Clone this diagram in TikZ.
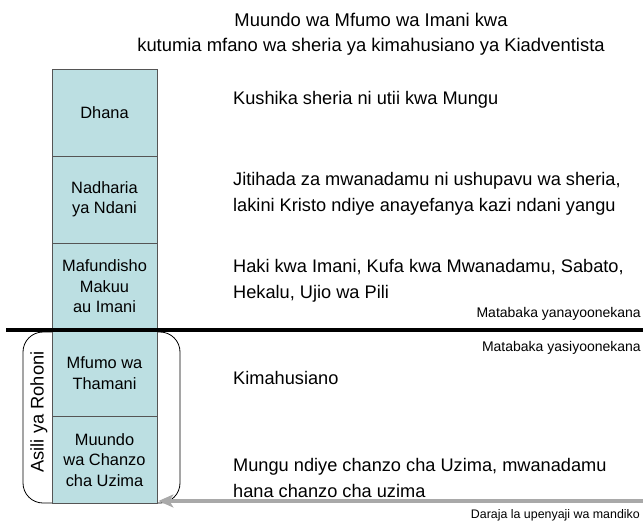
\documentclass[tikz,border=0pt]{standalone}
\usepackage{fontspec}
\setmainfont{Liberation Sans}
\usetikzlibrary{arrows.meta}

\definecolor{cellfill}{HTML}{BCDFE2}
\definecolor{celledge}{HTML}{555555}
\definecolor{bridgegray}{HTML}{A9A9A9}

\tikzset{
  cell/.style={draw=celledge, fill=cellfill, line width=0.8pt, minimum width=105pt,
    minimum height=87pt, align=center, inner sep=0pt, font=\fontsize{16.4}{20.5}\selectfont},
  note/.style={anchor=west, align=left, inner sep=0pt, font=\fontsize{18.2}{26}\selectfont},
  small/.style={anchor=east, inner sep=0pt, font=\fontsize{14}{16}\selectfont},
  title/.style={inner sep=0pt, font=\fontsize{18.4}{22}\selectfont}
}

\begin{document}
\begin{tikzpicture}[x=1pt, y=-1pt]
        \useasboundingbox (0,0) rectangle (643,522);

        % title
        \node[title] (t1) at (371, 20) {Muundo wa Mfumo wa Imani kwa};
        \node[title] (t2) at (371, 47) {kutumia mfano wa sheria ya kimahusiano ya Kiadventista};

        % bracket behind the hidden layers
        \draw[line width=0.8pt, rounded corners=20pt] (23,332) rectangle (180,503);
        \node[rotate=90, inner sep=0pt, font=\fontsize{18.3}{22}\selectfont] (asili) at (39, 412) {Asili ya Rohoni};

        % column of layers
        \node[cell] (c1) at (104.5, 112.5) {Dhana};
        \node[cell] (c2) at (104.5, 199.5) {Nadharia\\ya Ndani};
        \node[cell] (c3) at (104.5, 286.5) {Mafundisho\\Makuu\\au Imani};
        \node[cell] (c4) at (104.5, 373) {Mfumo wa\\Thamani};
        \node[cell] (c5) at (104.5, 460) {Muundo\\wa Chanzo\\cha Uzima};

        % visible / hidden divider
        \coordinate (divl) at (6, 330);
        \coordinate (divr) at (643, 330);
        \draw[line width=4pt] (divl) -- (divr);
        \node[small] (vis) at (641, 314) {Matabaka yanayoonekana};
        \node[small] (hid) at (641, 348) {Matabaka yasiyoonekana};

        % descriptions
        \node[note] (d1) at (233, 100) {Kushika sheria ni utii kwa Mungu};
        \node[note] (d2) at (233, 194) {Jitihada za mwanadamu ni ushupavu wa sheria,\\lakini Kristo ndiye anayefanya kazi ndani yangu};
        \node[note] (d3) at (233, 281) {Haki kwa Imani, Kufa kwa Mwanadamu, Sabato,\\Hekalu, Ujio wa Pili};
        \node[note] (d4) at (233, 378) {Kimahusiano};
        \node[note] (d5) at (233, 478) {Mungu ndiye chanzo cha Uzima, mwanadamu\\hana chanzo cha uzima};

        % bridge arrow
        \coordinate (arrs) at (643, 501);
        \draw[-{Stealth[length=15pt, width=13pt, inset=4pt]}, line width=4.5pt, draw=bridgegray]
          (arrs) -- ([xshift=1pt]c5.south east |- arrs);
        \node[small, font=\fontsize{12.4}{15}\selectfont] (bridge) at (640, 515) {Daraja la upenyaji wa mandiko};
    \end{tikzpicture}
\end{document}
